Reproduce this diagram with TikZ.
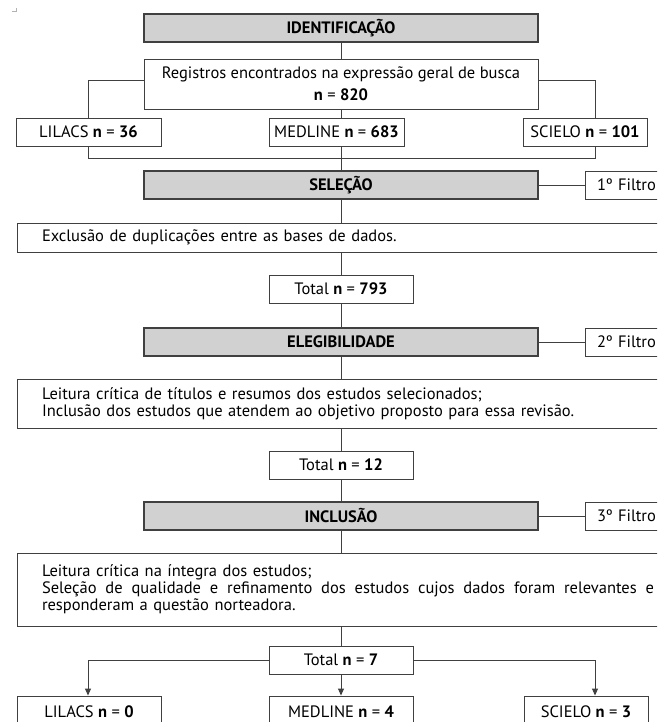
\documentclass[tikz,border=0pt]{standalone}
\usepackage{fontspec}
\setmainfont{PT Sans}
\usetikzlibrary{arrows.meta}
\definecolor{lc}{HTML}{404040}
\definecolor{gfill}{HTML}{D1D1D1}
\newcommand\myfs{\fontsize{16.5}{17}\selectfont}
\newcommand\wsp{\hfill}
\begin{document}
\begin{tikzpicture}[x=1pt,y=-1pt,
  box/.style={draw=lc, line width=0.9pt, fill=white, inner sep=0pt, font=\myfs},
  gbox/.style={box, fill=gfill, font=\myfs\bfseries, line width=1.1pt},
  lbox/.style={box, align=left, inner xsep=25pt},
  fbox/.style={box, align=left, inner xsep=12pt, text width=111pt, minimum width=135pt, minimum height=28pt},
  ln/.style={draw=lc, line width=0.9pt},
  arr/.style={ln, -{Triangle[width=6pt,length=7pt]}}]
\clip (0,0) rectangle (657,722);
\fill[white] (0,0) rectangle (657,722);
% corner mark
\draw[gray!60, line width=0.6pt] (12,11.5) -- (16,11.5) -- (16,8);
% boxes
\node[gbox, minimum width=394pt, minimum height=28pt] (ident) at (341,28) {IDENTIFICAÇÃO};
\node[box, minimum width=394pt, minimum height=50pt, align=center] (reg) at (341,84)
  {Registros encontrados na expressão geral de busca\\[5pt] \textbf{n} = \textbf{820}};
\node[box, minimum width=145pt, minimum height=28pt] (lil1) at (88.5,132) {LILACS \textbf{n} = \textbf{36}};
\node[box, minimum width=135pt, minimum height=28pt] (med1) at (336.5,132) {MEDLINE \textbf{n} = \textbf{683}};
\node[box, minimum width=124pt, minimum height=28pt] (sci1) at (585,132) {SCIELO \textbf{n} = \textbf{101}};
\node[gbox, minimum width=394pt, minimum height=28pt] (sel) at (341,185) {SELEÇÃO};
\node[fbox] (f1) at (652.5,185) {1º Filtro};
\node[lbox, minimum width=683pt, minimum height=29pt, text width=633pt] (excl) at (358.5,237.5)
  {Exclusão de duplicações entre as bases de dados.};
\node[box, minimum width=144pt, minimum height=28pt] (t793) at (341,289) {Total \textbf{n} = \textbf{793}};
\node[gbox, minimum width=394pt, minimum height=28pt] (eleg) at (341,342) {ELEGIBILIDADE};
\node[fbox] (f2) at (652.5,342) {2º Filtro};
\node[lbox, minimum width=683pt, minimum height=49pt, text width=633pt] (leit1) at (358.5,403.5)
  {Leitura crítica de títulos e resumos dos estudos selecionados;\\
   Inclusão dos estudos que atendem ao objetivo proposto para essa revisão.};
\node[box, minimum width=144pt, minimum height=28pt] (t12) at (341,465) {Total \textbf{n} = \textbf{12}};
\node[gbox, minimum width=394pt, minimum height=28pt] (incl) at (341,516) {INCLUSÃO};
\node[fbox] (f3) at (652.5,516) {3º Filtro};
\node[lbox, minimum width=683pt, minimum height=73pt, text width=633pt] (leit2) at (358.5,589.5)
  {Leitura crítica na íntegra dos estudos;\\
   \makebox[612pt][l]{Seleção\wsp de\wsp qualidade\wsp e\wsp refinamento\wsp dos\wsp estudos\wsp cujos\wsp dados\wsp foram\wsp relevantes\wsp e}\\
   responderam a questão norteadora.};
\node[box, minimum width=144pt, minimum height=28pt] (t7) at (341,660) {Total \textbf{n} = \textbf{7}};
\node[box, minimum width=144pt, minimum height=32pt] (lil2) at (89,712) {LILACS \textbf{n} = \textbf{0}};
\node[box, minimum width=144pt, minimum height=32pt] (med2) at (341,712) {MEDLINE \textbf{n} = \textbf{4}};
\node[box, minimum width=124pt, minimum height=32pt] (sci2) at (586,712) {SCIELO \textbf{n} = \textbf{3}};
% connectors
\draw[ln] (ident.south) -- (reg.north);
\draw[ln] (reg.south -| 341,0) -- (med1.north -| 341,0);
\draw[ln] (reg.west |- 0,80) -- (88,80) -- (lil1.north -| 88,0);
\draw[ln] (reg.east |- 0,80) -- (595,80) -- (sci1.north -| 595,0);
\draw[ln] (lil1.south -| 88,0) -- (88,158) -- (595,158) -- (sci1.south -| 595,0);
\draw[ln] (med1.south -| 341,0) -- (sel.north);
\draw[ln] (sel.east) -- (f1.west);
\draw[ln] (sel.south) -- (excl.north -| sel.south);
\draw[ln] (excl.south -| t793.north) -- (t793.north);
\draw[ln] (t793.south) -- (eleg.north);
\draw[ln] (eleg.east) -- (f2.west);
\draw[ln] (eleg.south) -- (leit1.north -| eleg.south);
\draw[ln] (leit1.south -| t12.north) -- (t12.north);
\draw[ln] (t12.south) -- (incl.north);
\draw[ln] (incl.east) -- (f3.west);
\draw[ln] (incl.south) -- (leit2.north -| incl.south);
\draw[ln] (leit2.south -| t7.north) -- (t7.north);
\draw[arr] (t7.west) -- (88,660) -- (lil2.north -| 88,0);
\draw[arr] (t7.east) -- (595,660) -- (sci2.north -| 595,0);
\draw[arr] (t7.south) -- (med2.north);
\end{tikzpicture}
\end{document}
